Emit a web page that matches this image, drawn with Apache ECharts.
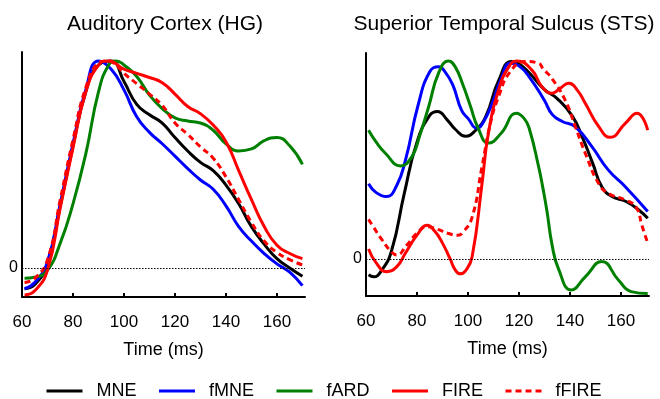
<!DOCTYPE html>
<html><head><meta charset="utf-8">
<script src="https://cdn.jsdelivr.net/npm/echarts@6/dist/echarts.min.js"></script>
<style>html,body{margin:0;padding:0;background:#fff}#c{width:660px;height:399px}</style>
</head><body><div id="c"></div>
<script>
// ---- data (time in ms, normalised response) ----
const panelTitles = ['Auditory Cortex (HG)', 'Superior Temporal Sulcus (STS)'];
const seriesNames = ['MNE', 'fMNE', 'fARD', 'FIRE', 'fFIRE'];
const xTicks = [60, 80, 100, 120, 140, 160];
const xTickMarks = [80, 100, 120, 140, 160];

const hgMNE = [[61,-0.10],[65,-0.08],[70,0.02],[75,0.30],[80,0.59],[85,0.85],[90,0.98],[95,1.0],[100,0.9],[105,0.79],[110,0.74],[115,0.70],[120,0.63],[125,0.565],[130,0.51],[135,0.47],[140,0.40],[145,0.31],[150,0.2],[155,0.115],[160,0.045],[165,0.0],[170,-0.04]];
const hgFMNE = [[61,-0.10],[65,-0.07],[70,0.03],[75,0.31],[80,0.60],[85,0.86],[90,1.0],[95,0.96],[100,0.86],[105,0.73],[110,0.655],[115,0.60],[120,0.54],[125,0.48],[130,0.425],[135,0.38],[140,0.30],[145,0.20],[150,0.13],[155,0.07],[160,0.02],[165,-0.02],[170,-0.085]];
const hgFARD = [[61,-0.05],[65,-0.045],[70,-0.01],[75,0.12],[80,0.31],[85,0.55],[90,0.85],[94,0.98],[97,1.0],[100,0.98],[105,0.925],[110,0.835],[115,0.77],[120,0.725],[125,0.71],[130,0.70],[135,0.665],[140,0.60],[145,0.565],[150,0.575],[155,0.615],[160,0.63],[165,0.59],[170,0.5]];
const hgFIRE = [[61,-0.13],[65,-0.11],[70,-0.01],[75,0.29],[80,0.58],[85,0.85],[90,0.98],[94,1.0],[100,0.96],[105,0.94],[110,0.92],[115,0.895],[120,0.84],[125,0.78],[130,0.745],[135,0.69],[140,0.61],[145,0.47],[150,0.33],[155,0.2],[160,0.11],[165,0.07],[170,0.045]];
const hgFFIRE = [[61,-0.07],[65,-0.05],[70,0.04],[75,0.33],[80,0.62],[85,0.87],[90,0.99],[93,1.0],[96,0.99],[100,0.94],[105,0.89],[110,0.84],[115,0.785],[120,0.70],[125,0.645],[130,0.585],[135,0.53],[140,0.44],[145,0.33],[150,0.22],[155,0.13],[160,0.075],[165,0.04],[170,0.015]];

const stsMNE = [[61,-0.08],[63,-0.09],[66,-0.06],[70,0.04],[75,0.33],[80,0.59],[85,0.725],[88,0.745],[92,0.70],[95,0.655],[99,0.62],[103,0.65],[107,0.72],[112,0.90],[117,0.997],[120,0.985],[124,0.94],[130,0.855],[135,0.81],[141,0.72],[145,0.61],[149,0.48],[152.5,0.365],[156.5,0.315],[162,0.29],[167,0.247],[170.5,0.205]];
const stsFMNE = [[61,0.38],[64,0.335],[68,0.315],[72,0.37],[75.5,0.5],[80.5,0.78],[85,0.945],[88.5,0.97],[91,0.945],[94,0.88],[97.5,0.75],[100,0.71],[103.5,0.66],[106,0.69],[109.5,0.786],[113,0.91],[116.6,0.988],[120,0.975],[124,0.92],[130,0.80],[133,0.73],[137,0.694],[142,0.668],[148.6,0.567],[155,0.45],[161.7,0.365],[170.5,0.24]];
const stsFARD = [[61,0.65],[64,0.59],[67.6,0.534],[73.5,0.47],[78,0.517],[81,0.62],[84.6,0.77],[88.5,0.94],[92.4,1.0],[95,0.97],[98,0.88],[101,0.77],[104,0.66],[108,0.585],[113,0.635],[119,0.736],[122,0.71],[124,0.66],[127.7,0.466],[129.5,0.35],[131,0.24],[133,0.07],[135.5,-0.05],[140.5,-0.157],[146,-0.09],[152.5,-0.013],[159,-0.106],[164,-0.165],[170.5,-0.175]];
const stsFIRE = [[61,0.05],[64,-0.02],[68,-0.064],[72,-0.04],[75.5,0.03],[80,0.12],[84,0.17],[87,0.14],[90,0.08],[93,0.0],[95,-0.055],[97,-0.075],[99,-0.06],[101.6,0.01],[105.5,0.38],[108,0.635],[112,0.853],[116,0.97],[119.2,1.0],[125,0.955],[129,0.87],[133,0.837],[136,0.86],[139.5,0.887],[143,0.85],[146,0.786],[151.3,0.668],[155.8,0.614],[161.7,0.685],[166.3,0.736],[170.5,0.65]];
const stsFFIRE = [[61,0.2],[63,0.16],[66.3,0.096],[70,0.035],[72,0.02],[76,0.07],[80,0.13],[84,0.163],[88,0.15],[92,0.13],[96,0.12],[98,0.135],[101.6,0.21],[105.5,0.466],[108.8,0.685],[112,0.82],[116.6,0.946],[122.5,0.997],[127.7,0.988],[129.5,0.96],[133,0.91],[138.2,0.80],[142.1,0.668],[146,0.534],[151.3,0.38],[155.2,0.33],[161.7,0.298],[166,0.26],[168.2,0.17],[170.5,0.08]];

// ---- styling ----
const FONT = '"Liberation Sans", Arial, Helvetica, sans-serif';
const colors = ['#000000', '#0000ff', '#008000', '#ff0000', '#ff0000'];
const dashed = [false, false, false, false, true];
const panels = [[hgMNE, hgFMNE, hgFARD, hgFIRE, hgFFIRE], [stsMNE, stsFMNE, stsFARD, stsFIRE, stsFFIRE]];

const chart = echarts.init(document.getElementById('c'), null, {renderer: 'canvas'});

function xAxis(i) {
  return {
    gridIndex: i, type: 'value', min: 60, max: 171,
    axisLine: {show: true, onZero: false, lineStyle: {color: '#000', width: 2}},
    axisTick: {show: true, inside: true, length: 4, customValues: xTickMarks, lineStyle: {color: '#000', width: 2}},
    axisLabel: {customValues: xTicks, color: '#000', fontSize: 17, fontFamily: FONT, margin: 17},
    splitLine: {show: false},
    name: 'Time (ms)', nameLocation: 'middle', nameGap: 44,
    nameTextStyle: {color: '#000', fontSize: 18, fontFamily: FONT}
  };
}
function yAxis(i, min, max) {
  return {
    gridIndex: i, type: 'value', min: min, max: max,
    axisLine: {show: true, onZero: false, lineStyle: {color: '#000', width: 2}},
    axisTick: {show: false}, axisLabel: {show: false}, splitLine: {show: false}
  };
}

const series = [];
panels.forEach((arrs, p) => {
  arrs.forEach((d, k) => {
    const s = {
      name: seriesNames[k], type: 'line', xAxisIndex: p, yAxisIndex: p,
      data: d, smooth: true, symbol: 'none',
      lineStyle: {color: colors[k], width: 3, type: dashed[k] ? [6, 4] : 'solid', cap: 'butt'},
      itemStyle: {color: colors[k]},
      z: 3
    };
    if (k === 0) {
      s.markLine = {
        silent: true, symbol: 'none', animation: false,
        lineStyle: {color: '#000', type: [1.5, 1.5], width: 1},
        label: {show: true, position: 'start', formatter: '0', color: '#000', fontSize: 16, fontFamily: FONT, distance: 4},
        data: [{yAxis: 0}]
      };
    }
    series.push(s);
  });
});

chart.setOption({
  animation: false,
  backgroundColor: '#fff',
  title: [
    {text: panelTitles[0], left: 165, top: 14, textAlign: 'center', padding: 0,
     textStyle: {fontSize: 21, fontWeight: 'normal', color: '#000', fontFamily: FONT}},
    {text: panelTitles[1], left: 504, top: 14, textAlign: 'center', padding: 0,
     textStyle: {fontSize: 21, fontWeight: 'normal', color: '#000', fontFamily: FONT}}
  ],
  grid: [
    {left: 22, top: 52, width: 283, height: 245},
    {left: 366, top: 53, width: 283, height: 243}
  ],
  xAxis: [xAxis(0), xAxis(1)],
  yAxis: [yAxis(0, -0.14, 1.043), yAxis(1, -0.187, 1.04)],
  legend: {
    data: seriesNames, left: 45, top: 382, padding: 0, itemGap: 21,
    itemWidth: 36, itemHeight: 16,
    itemStyle: {opacity: 0, borderWidth: 0},
    lineStyle: {width: 3},
    formatter: '{n|{name}}',
    textStyle: {color: '#000', fontSize: 18, fontFamily: FONT,
      rich: {n: {color: '#000', fontSize: 18, fontFamily: FONT, padding: [0, 0, 0, 9]}}}
  },
  series: series
});
</script></body></html>
